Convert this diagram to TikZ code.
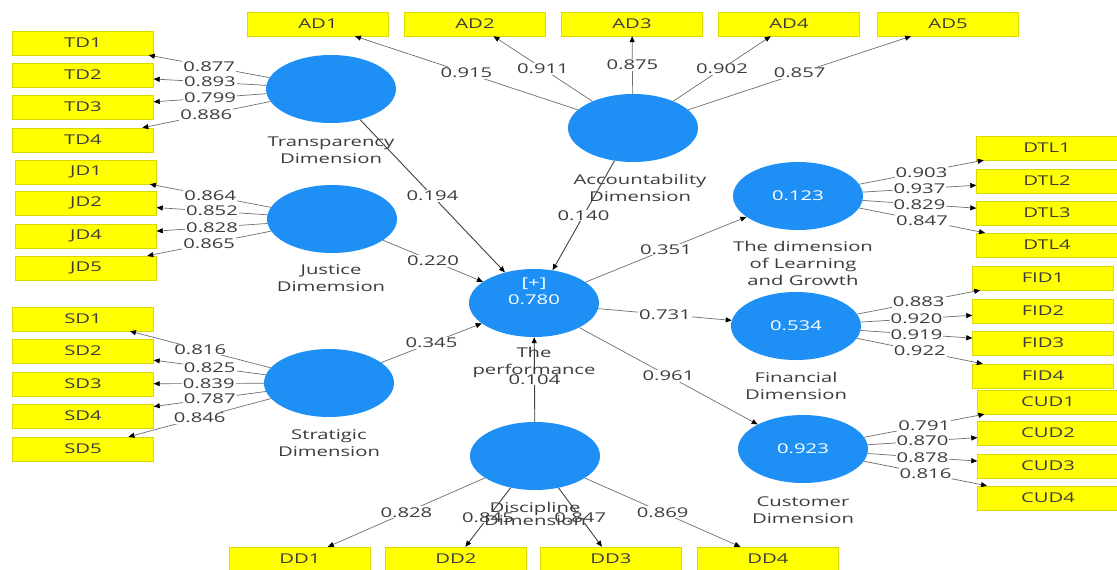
\documentclass[tikz,border=0pt]{standalone}
\usepackage{fontspec}
\setmainfont{Open Sans}[FakeStretch=1.5]
\usetikzlibrary{arrows.meta,shapes.geometric}
\definecolor{lvblue}{RGB}{30,144,245}
\definecolor{txtc}{RGB}{60,60,60}
\definecolor{ylw}{RGB}{255,255,0}
\definecolor{lnc}{RGB}{110,110,110}
\newcommand\lfont{\fontsize{13.5}{17}\selectfont}
\begin{document}
\begin{tikzpicture}[x=1pt,y=-1pt,
  lv/.style={ellipse, fill=lvblue, minimum width=130pt, minimum height=68pt, inner sep=0pt, text=white, font=\lfont},
  ind/.style={rectangle, fill=ylw, draw=ylw!85!black, line width=0.4pt, minimum width=141pt, minimum height=24pt, inner sep=0pt, text=txtc, font=\lfont},
  lbl/.style={text=txtc, font=\lfont, align=center, inner sep=0pt},
  ld/.style={draw=lnc, line width=0.7pt, -{Triangle[length=6pt,width=5pt,color=black]}},
  pc/.style={draw=black!75, line width=0.9pt, -{Triangle[length=6pt,width=5pt,color=black]}},
  val/.style={fill=white, text=txtc, font=\lfont, inner sep=1pt}]
\useasboundingbox (0,0) rectangle (1117,570);
\fill[white] (0,0) rectangle (1117,570);
% latent variables
\node[lv] (T) at (331,89) {};
\node[lv] (J) at (332,219) {};
\node[lv] (S) at (329,383) {};
\node[lv] (A) at (633,128) {};
\node[lv] (P) at (534,303) {};
\node[lv] (D) at (535,456) {};
\node[lv] (L) at (798,196) {0.123};
\node[lv] (F) at (796,326) {0.534};
\node[lv] (C) at (803,449) {0.923};
\node[lbl, text=white] (Pv) at (534,291) {[+]\\0.780};
% indicators
\node[ind] (TD1) at (83,43) {TD1};
\node[ind] (TD2) at (83,75) {TD2};
\node[ind] (TD3) at (83,107) {TD3};
\node[ind] (TD4) at (83,140) {TD4};
\node[ind] (JD1) at (86,172) {JD1};
\node[ind] (JD2) at (86,203) {JD2};
\node[ind] (JD4) at (86,236) {JD4};
\node[ind] (JD5) at (86,268) {JD5};
\node[ind] (SD1) at (83,319) {SD1};
\node[ind] (SD2) at (83,351) {SD2};
\node[ind] (SD3) at (83,384) {SD3};
\node[ind] (SD4) at (83,416) {SD4};
\node[ind] (SD5) at (83,449) {SD5};
\node[ind] (AD1) at (318,24) {AD1};
\node[ind] (AD2) at (475,24) {AD2};
\node[ind] (AD3) at (632,24) {AD3};
\node[ind] (AD4) at (789,24) {AD4};
\node[ind] (AD5) at (948,24) {AD5};
\node[ind] (DTL1) at (1047,148) {DTL1};
\node[ind] (DTL2) at (1047,181) {DTL2};
\node[ind] (DTL3) at (1047,213) {DTL3};
\node[ind] (DTL4) at (1047,245) {DTL4};
\node[ind] (FID1) at (1043,278) {FID1};
\node[ind] (FID2) at (1043,311) {FID2};
\node[ind] (FID3) at (1043,343) {FID3};
\node[ind] (FID4) at (1043,376) {FID4};
\node[ind] (CUD1) at (1048,402) {CUD1};
\node[ind] (CUD2) at (1048,433) {CUD2};
\node[ind] (CUD3) at (1048,466) {CUD3};
\node[ind] (CUD4) at (1048,498) {CUD4};
\node[ind] (DD1) at (300,559) {DD1};
\node[ind] (DD2) at (456,559) {DD2};
\node[ind] (DD3) at (611,559) {DD3};
\node[ind] (DD4) at (768,559) {DD4};
% loadings
\draw[ld] (T) -- node[val]{0.877} (TD1);
\draw[ld] (T) -- node[val]{0.893} (TD2);
\draw[ld] (T) -- node[val]{0.799} (TD3);
\draw[ld] (T) -- node[val]{0.886} (TD4);
\draw[ld] (J) -- node[val]{0.864} (JD1);
\draw[ld] (J) -- node[val]{0.852} (JD2);
\draw[ld] (J) -- node[val]{0.828} (JD4);
\draw[ld] (J) -- node[val]{0.865} (JD5);
\draw[ld] (S) -- node[val]{0.816} (SD1);
\draw[ld] (S) -- node[val]{0.825} (SD2);
\draw[ld] (S) -- node[val]{0.839} (SD3);
\draw[ld] (S) -- node[val]{0.787} (SD4);
\draw[ld] (S) -- node[val]{0.846} (SD5);
\draw[ld] (A) -- node[val]{0.915} (AD1);
\draw[ld] (A) -- node[val]{0.911} (AD2);
\draw[ld] (A) -- node[val]{0.875} (AD3);
\draw[ld] (A) -- node[val]{0.902} (AD4);
\draw[ld] (A) -- node[val]{0.857} (AD5);
\draw[ld] (L) -- node[val]{0.903} (DTL1);
\draw[ld] (L) -- node[val]{0.937} (DTL2);
\draw[ld] (L) -- node[val]{0.829} (DTL3);
\draw[ld] (L) -- node[val]{0.847} (DTL4);
\draw[ld] (F) -- node[val]{0.883} (FID1);
\draw[ld] (F) -- node[val]{0.920} (FID2);
\draw[ld] (F) -- node[val]{0.919} (FID3);
\draw[ld] (F) -- node[val]{0.922} (FID4);
\draw[ld] (C) -- node[val]{0.791} (CUD1);
\draw[ld] (C) -- node[val]{0.870} (CUD2);
\draw[ld] (C) -- node[val]{0.878} (CUD3);
\draw[ld] (C) -- node[val]{0.816} (CUD4);
\draw[ld] (D) -- node[val]{0.828} (DD1);
\draw[pc] (D) -- node[val]{0.845} (DD2);
\draw[pc] (D) -- node[val]{0.847} (DD3);
\draw[ld] (D) -- node[val]{0.869} (DD4);
% path coefficients
\draw[pc] (T) -- node[val]{0.194} (P);
\draw[ld] (J) -- node[val]{0.220} (P);
\draw[ld] (S) -- node[val]{0.345} (P);
\draw[pc] (A) -- node[val]{0.140} (P);
\draw[pc] (D) -- node[val]{0.104} (P);
\draw[ld] (P) -- node[val]{0.351} (L);
\draw[ld] (P) -- node[val]{0.731} (F);
\draw[ld] (P) -- node[val]{0.961} (C);
% construct names
\node[lbl] (Tn) at (331,150) {Transparency\\Dimension};
\node[lbl] (Jn) at (331,278) {Justice\\Dimemsion};
\node[lbl] (Sn) at (329,443) {Stratigic\\Dimension};
\node[lbl] (An) at (640,188) {Accountability\\Dimension};
\node[lbl] (Pn) at (534,362) {The\\performance};
\node[lbl] (Dn) at (535,514) {Discipline\\[-4pt]Dimension};
\node[lbl] (Ln) at (803,263) {The dimension\\of Learning\\and Growth};
\node[lbl] (Fn) at (796,386) {Financial\\Dimension};
\node[lbl] (Cn) at (803,510) {Customer\\Dimension};
\end{tikzpicture}
\end{document}
